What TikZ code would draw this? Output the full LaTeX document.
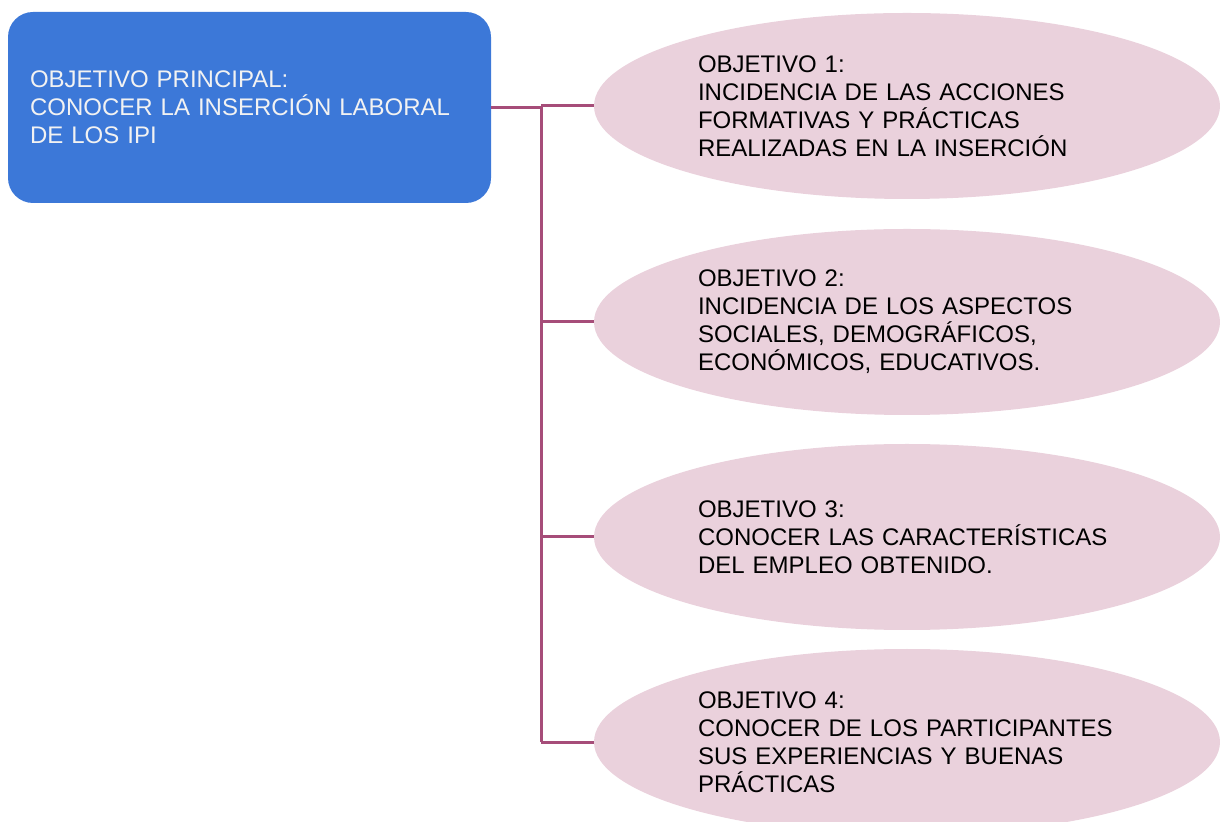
\documentclass[tikz,border=0pt]{standalone}
\usepackage{fontspec}
\setmainfont{Liberation Sans}
\usepackage{tikz}
\usetikzlibrary{shapes.geometric}
\definecolor{azul}{HTML}{3C78D8}
\definecolor{rosa}{HTML}{EAD1DC}
\definecolor{magenta}{HTML}{A64D79}
\tikzstyle{principal}=[rectangle,rounded corners=12.5pt,fill=azul,text=white!95!black,
minimum width=241.5pt,minimum height=95.5pt,inner sep=0pt,text width=219.5pt,align=left]
\tikzstyle{objetivo}=[ellipse,fill=rosa,text=black,minimum width=313pt,
minimum height=93pt,inner sep=0pt,text width=209pt,align=left]
\tikzstyle{enlace}=[draw=magenta,line width=1.5pt]

\begin{document}
\begin{tikzpicture}[x=0.5pt,y=-0.5pt,font=\fontsize{12}{14}\selectfont]
    \useasboundingbox (0,0) rectangle (1220,822);
    % left: main objective
    \node (principal) [principal] at (249.5,107.5)
      {OBJETIVO PRINCIPAL:\\CONOCER LA INSERCIÓN LABORAL\\DE LOS IPI};
    % right column: the four objectives
    \node (obj1) [objetivo] at (907,106)
      {OBJETIVO 1:\\INCIDENCIA DE LAS ACCIONES\\FORMATIVAS Y PRÁCTICAS\\REALIZADAS EN LA INSERCIÓN};
    \node (obj2) [objetivo] at (907,322)
      {OBJETIVO 2:\\INCIDENCIA DE LOS ASPECTOS\\SOCIALES, DEMOGRÁFICOS,\\ECONÓMICOS, EDUCATIVOS.};
    \node (obj3) [objetivo] at (907,537)
      {OBJETIVO 3:\\CONOCER LAS CARACTERÍSTICAS\\DEL EMPLEO OBTENIDO.};
    \node (obj4) [objetivo] at (907,742)
      {OBJETIVO 4:\\CONOCER DE LOS PARTICIPANTES\\SUS EXPERIENCIAS Y BUENAS\\PRÁCTICAS};
    % the tree connector
    \coordinate (bus) at (541,742);
    \draw[enlace] (principal.east) -- (principal.east -| bus) -- (bus);
    \foreach \i in {1,...,4}
      \draw[enlace] (bus |- obj\i.west) -- (obj\i.west);
\end{tikzpicture}
\end{document}
